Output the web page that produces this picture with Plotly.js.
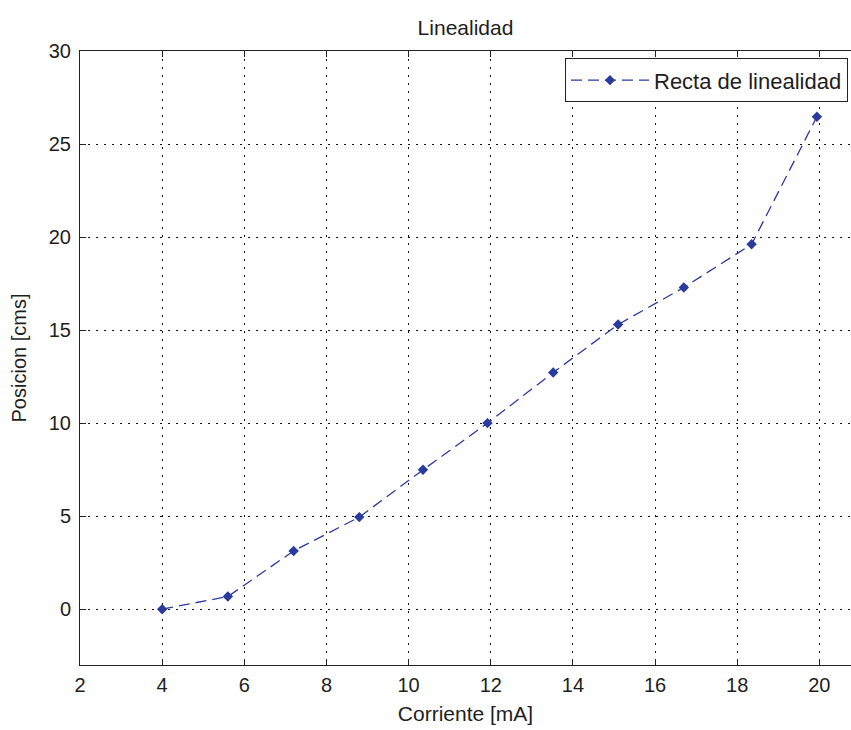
<!DOCTYPE html>
<html>
<head>
<meta charset="utf-8">
<script src="https://cdn.plot.ly/plotly-3.0.1.min.js"></script>
<style>
  html, body { margin: 0; padding: 0; background: #fff; overflow: hidden; }
  #chart { width: 851px; height: 730px; }
</style>
</head>
<body>
<div id="chart"></div>
<script>
// Current (mA) against measured position (cm)
const corriente = [4, 5.6, 7.2, 8.8, 10.35, 11.92, 13.52, 15.1, 16.7, 18.35, 19.94];
const posicion = [0, 0.68, 3.13, 4.95, 7.49, 10.0, 12.72, 15.3, 17.29, 19.61, 26.47];

const xTicks = [2, 4, 6, 8, 10, 12, 14, 16, 18, 20];
const yTicks = [0, 5, 10, 15, 20, 25, 30];

const seriesName = 'Recta de linealidad';
const titleText = 'Linealidad';
const xTitle = 'Corriente [mA]';
const yTitle = 'Posicion [cms]';

const lineColor = '#2a3b9e';
const fontFamily = '"Liberation Sans", Arial, sans-serif';
const textColor = '#1e1e1e';

const trace = {
  x: corriente,
  y: posicion,
  type: 'scatter',
  mode: 'lines+markers',
  name: seriesName,
  line: { color: lineColor, width: 1.3, dash: '11px,6px' },
  marker: { symbol: 'diamond', size: 8, color: lineColor }
};

const axisCommon = {
  showline: true,
  linecolor: '#222',
  linewidth: 1,
  ticks: 'inside',
  ticklen: 6,
  tickcolor: '#222',
  showgrid: true,
  gridcolor: '#111',
  gridwidth: 1,
  griddash: '2px,6px',
  zeroline: false,
  tickfont: { family: fontFamily, size: 20, color: textColor }
};

const layout = {
  width: 851,
  height: 730,
  margin: { l: 80, r: 0, t: 51, b: 65 },
  paper_bgcolor: '#fff',
  plot_bgcolor: '#fff',
  font: { family: fontFamily, size: 20, color: textColor },
  title: {
    text: titleText,
    font: { family: fontFamily, size: 21, color: textColor },
    x: 0.5, xref: 'paper', xanchor: 'center',
    y: 1, yref: 'paper', yanchor: 'bottom', pad: { b: 16 }
  },
  xaxis: Object.assign({}, axisCommon, {
    range: [2, 20.77],
    mirror: 'ticks',
    tickvals: xTicks,
    ticktext: xTicks.map(String),
    ticklabelstandoff: 2,
    title: { text: xTitle, font: { family: fontFamily, size: 21, color: textColor }, standoff: 11 }
  }),
  yaxis: Object.assign({}, axisCommon, {
    range: [-3, 30],
    mirror: false,
    tickvals: yTicks,
    ticktext: yTicks.map(String),
    ticklabelstandoff: 4,
    title: { text: yTitle, font: { family: fontFamily, size: 20, color: textColor }, standoff: 16 }
  }),
  showlegend: true,
  legend: {
    x: (848 - 80) / 771, xanchor: 'right',
    y: 0.988, yanchor: 'top',
    bgcolor: '#fff',
    bordercolor: '#222',
    borderwidth: 1,
    itemwidth: 78,
    font: { family: fontFamily, size: 22, color: textColor }
  }
};

Plotly.newPlot('chart', [trace], layout, { displayModeBar: false, staticPlot: true });
</script>
</body>
</html>
